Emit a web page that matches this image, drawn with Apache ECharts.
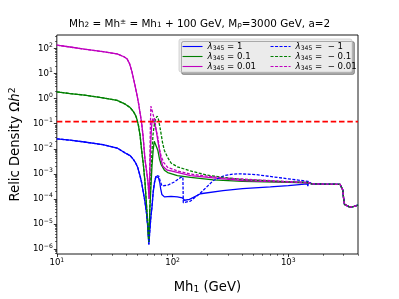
<!DOCTYPE html>
<html><head><meta charset="utf-8">
<script src="https://cdn.jsdelivr.net/npm/echarts@6/dist/echarts.min.js"></script>
<style>html,body{margin:0;padding:0;background:#fff}#c{width:399px;height:299px}</style>
</head><body><div id="c"></div><script>
// ---- axes ----
const xRange = [10, 4000];
const yRange = [6.3e-7, 347];
const xMajorTicks = [10, 100, 1000];
const xMinorTicks = [20,30,40,50,60,70,80,90,200,300,400,500,600,700,800,900,2000,3000,4000];
const yMajorTicks = [1e-6,1e-5,1e-4,1e-3,1e-2,1e-1,1,10,100];
const yMinorTicks = [7e-7,8e-7,9e-7,
  2e-6,3e-6,4e-6,5e-6,6e-6,7e-6,8e-6,9e-6,
  2e-5,3e-5,4e-5,5e-5,6e-5,7e-5,8e-5,9e-5,
  2e-4,3e-4,4e-4,5e-4,6e-4,7e-4,8e-4,9e-4,
  2e-3,3e-3,4e-3,5e-3,6e-3,7e-3,8e-3,9e-3,
  0.02,0.03,0.04,0.05,0.06,0.07,0.08,0.09,
  0.2,0.3,0.4,0.5,0.6,0.7,0.8,0.9,
  2,3,4,5,6,7,8,9,20,30,40,50,60,70,80,90,200,300];
const planck = 0.12;

// ---- data [Mh1 (GeV), Omega h^2] ----
const leftL1 = [[10,0.025],[13,0.022],[17.3,0.0186],[25,0.0145],[33.2,0.0107],[39,0.0068],[43,0.0053],[46,0.0037],[48,0.0027],[50,0.0018],[52.3,0.00084],[54,0.00045],[55.7,0.0002],[57.7,0.00008],[59.6,0.000026],[61.3,0.000006],[62.4,0.0000015]];
const leftL01 = [[10,1.86],[13,1.6],[17.3,1.39],[25,1.08],[33.2,0.85],[39,0.6],[43,0.44],[46,0.3],[48,0.21],[49,0.16],[50.6,0.09],[52.3,0.037],[54.1,0.0085],[56,0.0022],[57.7,0.0005],[59.5,0.00006],[61,0.00001],[62.3,0.0000019]];
const leftL001 = [[10,137],[13,115],[17.3,94],[25,75],[33.2,61],[38,47],[40.4,39],[42.5,25],[44.5,12.3],[47,4],[49,1.58],[51,0.6],[52.3,0.28],[54,0.11],[55.7,0.03],[57.7,0.004],[59.6,0.0013],[61.5,0.0004],[62.8,0.0001]];
const tailAll = [[1600,0.0004],[2000,0.00039],[2800,0.00038],[2900,0.00035],[2960,0.00022],[3000,0.00011],[3060,0.00006],[3150,0.00005],[3400,0.000047],[3700,0.00005],[4000,0.000056]];

const rightP1 = [[63.5,0.000005],[65,0.00002],[66.4,0.000046],[68,0.00018],[70,0.00047],[72,0.00078],[73.5,0.00085],[75.5,0.0007],[77.5,0.00045],[79,0.00025],[80.8,0.00015],[85,0.00012],[97,0.000125],[110,0.00012],[121.6,0.00011],[125,0.000105],[127,0.000088],[130,0.000085],[140,0.000095],[174,0.00016],[273,0.000214],[403,0.000255],[700,0.0003],[1000,0.00034],[1460,0.0004],[1475,0.00032],[1490,0.00043]];
const rightM1 = [[63.5,0.000005],[65,0.00002],[66.4,0.00005],[68,0.0002],[70,0.0005],[72,0.00085],[74,0.00097],[76,0.0008],[78.5,0.00048],[81,0.00033],[84,0.0003],[90.7,0.00035],[103.4,0.00047],[117.6,0.00072],[122.8,0.00075],[123.8,0.00007],[126,0.000063],[143,0.000082],[174,0.00017],[225,0.00054],[280,0.00085],[332,0.00097],[379,0.001],[523,0.00093],[1000,0.00063],[1480,0.0005]];
const rightP01 = [[63.5,0.00003],[65,0.0003],[66.4,0.002],[68,0.009],[69.5,0.02],[70.5,0.0237],[72,0.017],[74.7,0.0085],[77,0.004],[79.8,0.0023],[85,0.0014],[90.7,0.00112],[110,0.00085],[143,0.00072],[225,0.00057],[403,0.0005],[1000,0.00046],[1480,0.00044]];
const rightM01 = [[63.5,0.00003],[65,0.0008],[66.4,0.008],[67.8,0.037],[69.5,0.09],[71.5,0.16],[73.8,0.2],[75.5,0.15],[77.5,0.08],[79.8,0.037],[82,0.017],[85,0.0085],[90.7,0.0045],[97,0.0027],[110,0.0019],[143,0.0013],[200,0.00088],[273,0.00072],[403,0.00059],[1000,0.00048],[1480,0.00045]];
const rightP001 = [[63.5,0.0008],[64.5,0.01],[65.5,0.05],[66.4,0.12],[67.5,0.16],[69,0.12],[70.5,0.085],[72.4,0.05],[74.7,0.02],[77.2,0.0085],[79.8,0.0035],[82.3,0.002],[90,0.0014],[97,0.0013],[143,0.00084],[273,0.00063],[403,0.00054],[1000,0.00047],[1480,0.00044]];
const rightM001 = [[63.5,0.002],[64.2,0.05],[64.9,0.5],[65.8,0.45],[67,0.3],[68.5,0.2],[70,0.157],[72,0.06],[74.7,0.0275],[77,0.01],[79.8,0.0048],[84,0.0028],[90.7,0.0018],[110,0.0013],[143,0.00097],[273,0.00068],[403,0.00062],[1000,0.00049],[1480,0.00045]];

const lambdaLabels = ['1','0.1','0.01','−1','−0.1','−0.01'];
const seriesNames = ['l1','l01','l001','m1','m01','m001'];
const seriesData = [
  leftL1.concat(rightP1, tailAll),
  leftL01.concat(rightP01, tailAll),
  leftL001.concat(rightP001, tailAll),
  leftL1.concat(rightM1, tailAll),
  leftL01.concat(rightM01, tailAll),
  leftL001.concat(rightM001, tailAll)
];
const colors = ['#0000ff','#008000','#bf00bf','#0000ff','#008000','#bf00bf'];

const FONT = 'DejaVu Sans';
function powFmt(v){
  const e = Math.round(Math.log10(v));
  return '{b|10}{p|' + (e < 0 ? '−' + (-e) : e) + '}';
}
const powRich = {
  b:{fontSize:8.6, fontFamily:FONT, color:'#000', lineHeight:12},
  p:{fontSize:6.1, fontFamily:FONT, color:'#000', verticalAlign:'top', lineHeight:7}
};
const legRich = {
  l:{fontSize:8.6, fontFamily:FONT, fontStyle:'italic', color:'#000', lineHeight:9},
  s:{fontSize:6.1, fontFamily:FONT, color:'#000', verticalAlign:'bottom', lineHeight:6},
  t:{fontSize:8.6, fontFamily:FONT, color:'#000', lineHeight:9}
};
function legFmt(name){
  const i = seriesNames.indexOf(name);
  const v = lambdaLabels[i];
  const txt = v.startsWith('−') ? ' =  − ' + v.slice(1) : ' = ' + v;
  return '{l|λ}{s|345}{t|' + txt + '}';
}

const series = seriesData.map((d, i) => ({
  name: seriesNames[i], type:'line', data:d, symbol:'none', showSymbol:false,
  xAxisIndex:0, yAxisIndex:0, z: 2 + i, animation:false,
  lineStyle:{color:colors[i], width:1.3, type: i < 3 ? 'solid' : [3,1.5]},
  itemStyle:{color:colors[i]}
}));
series.push({
  name:'planck', type:'line', data:[[xRange[0],planck],[xRange[1],planck]], symbol:'none',
  z: 10, animation:false, lineStyle:{color:'#ff0000', width:1.7, type:[5.5,2.8]}
});

const legendCommon = {
  orient:'vertical', top:42, padding:0,
  itemWidth:20, itemHeight:8, itemGap:1, selectedMode:false, formatter:legFmt,
  itemStyle:{opacity:0, borderWidth:0},
  lineStyle:{width:1.1},
  textStyle:{fontSize:8.6, fontFamily:FONT, color:'#000', rich:legRich}, z:6
};

const chart = echarts.init(document.getElementById('c'), null, {renderer:'canvas'});
chart.setOption({
  animation:false,
  backgroundColor:'#fff',
  title:{
    text:'Mh{sub|2} = Mh{sup|±} = Mh{sub|1} + 100 GeV, M{sub|ρ}=3000 GeV, a=2',
    left:'center', top:19, padding:[0,0,0,9],
    textStyle:{fontSize:10.4, fontFamily:FONT, fontWeight:'normal', color:'#000',
      rich:{
        sub:{fontSize:7.3, fontFamily:FONT, color:'#000', verticalAlign:'bottom', lineHeight:8},
        sup:{fontSize:7.3, fontFamily:FONT, color:'#000', verticalAlign:'top', lineHeight:8}
      }}
  },
  grid:{left:50, right:41, top:35, bottom:33, show:true, borderColor:'#000', borderWidth:0.9, backgroundColor:'transparent'},
  xAxis:[{
    type:'log', logBase:10, min:xRange[0], max:xRange[1], position:'bottom',
    axisLine:{show:false}, splitLine:{show:false}, minorTick:{show:false},
    axisTick:{show:true, length:3, lineStyle:{color:'#000', width:0.8}, customValues:xMajorTicks},
    axisLabel:{show:true, customValues:xMajorTicks, formatter:powFmt, rich:powRich, margin:3, color:'#000'},
    name:'Mh{sub|1} (GeV)', nameLocation:'middle', nameGap:27,
    nameTextStyle:{fontSize:13.2, fontFamily:FONT, color:'#000',
      rich:{sub:{fontSize:9.2, fontFamily:FONT, color:'#000', verticalAlign:'bottom', lineHeight:10}}}
  },{
    type:'log', logBase:10, min:xRange[0], max:xRange[1], position:'bottom',
    axisLine:{show:false}, splitLine:{show:false}, axisLabel:{show:false},
    axisTick:{show:true, length:1.8, lineStyle:{color:'#000', width:0.6}, customValues:xMinorTicks}
  }],
  yAxis:[{
    type:'log', logBase:10, min:yRange[0], max:yRange[1], position:'left',
    axisLine:{show:false}, splitLine:{show:false}, minorTick:{show:false},
    axisTick:{show:true, length:3, lineStyle:{color:'#000', width:0.8}, customValues:yMajorTicks},
    axisLabel:{show:true, customValues:yMajorTicks, formatter:powFmt, rich:powRich, margin:4, color:'#000'},
    name:'Relic Density {r|Ω}{i|h}{p|2}', nameLocation:'middle', nameGap:31, nameRotate:90,
    nameTextStyle:{fontSize:13.2, fontFamily:FONT, color:'#000',
      rich:{
        r:{fontSize:13.2, fontFamily:FONT, color:'#000', lineHeight:15},
        i:{fontSize:13.2, fontFamily:FONT, fontStyle:'italic', color:'#000', lineHeight:15},
        p:{fontSize:9.2, fontFamily:FONT, color:'#000', verticalAlign:'top', lineHeight:9}
      }}
  },{
    type:'log', logBase:10, min:yRange[0], max:yRange[1], position:'left',
    axisLine:{show:false}, splitLine:{show:false}, axisLabel:{show:false},
    axisTick:{show:true, length:1.8, lineStyle:{color:'#000', width:0.6}, customValues:yMinorTicks}
  }],
  legend:[
    Object.assign({}, legendCommon, {data:seriesNames.slice(0,3), left:182}),
    Object.assign({}, legendCommon, {data:seriesNames.slice(3,6), left:270})
  ],
  graphic:[{
    type:'rect', z:5, silent:true,
    shape:{x:179, y:39, width:173, height:33, r:2},
    style:{fill:'#ebebeb', stroke:'#cccccc', lineWidth:0.8,
      shadowColor:'rgba(0,0,0,0.35)', shadowOffsetX:2.5, shadowOffsetY:2.5, shadowBlur:0}
  }],
  series:series
});
</script></body></html>
